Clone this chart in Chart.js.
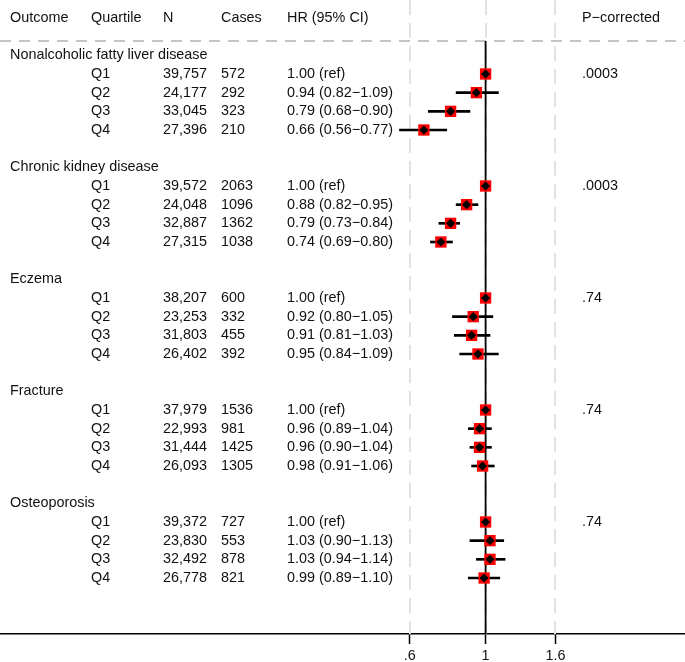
<!DOCTYPE html>
<html><head><meta charset="utf-8">
<script src="https://cdn.jsdelivr.net/npm/chart.js@4.4.1/dist/chart.umd.min.js"></script>
<style>html,body{margin:0;padding:0;background:#fff;}#wrap{width:685px;height:662px;position:relative;}</style>
</head><body><div id="wrap"><canvas id="c"></canvas></div>
<script>
// ---- data ----
const outcomes = ["Nonalcoholic fatty liver disease","Chronic kidney disease","Eczema","Fracture","Osteoporosis"];
const quartiles = ["Q1","Q2","Q3","Q4"];
const nValues = [
  ["39,757","24,177","33,045","27,396"],
  ["39,572","24,048","32,887","27,315"],
  ["38,207","23,253","31,803","26,402"],
  ["37,979","22,993","31,444","26,093"],
  ["39,372","23,830","32,492","26,778"]
];
const cases = [
  [572,292,323,210],
  [2063,1096,1362,1038],
  [600,332,455,392],
  [1536,981,1425,1305],
  [727,553,878,821]
];
const hr = [
  [1.00,0.94,0.79,0.66],
  [1.00,0.88,0.79,0.74],
  [1.00,0.92,0.91,0.95],
  [1.00,0.96,0.96,0.98],
  [1.00,1.03,1.03,0.99]
];
const ciLow = [
  [null,0.82,0.68,0.56],
  [null,0.82,0.73,0.69],
  [null,0.80,0.81,0.84],
  [null,0.89,0.90,0.91],
  [null,0.90,0.94,0.89]
];
const ciHigh = [
  [null,1.09,0.90,0.77],
  [null,0.95,0.84,0.80],
  [null,1.05,1.03,1.09],
  [null,1.04,1.04,1.06],
  [null,1.13,1.14,1.10]
];
const pCorrected = [".0003",".0003",".74",".74",".74"];
const tickValues = [0.6, 1, 1.6];
const tickLabels = [".6", "1", "1.6"];
const headers = ["Outcome","Quartile","N","Cases","HR (95% CI)","P\u2212corrected"];

// ---- layout (not data) ----
const FONT = '14.4px "Liberation Sans", Arial, sans-serif';
const colX = {outcome:10, quartile:91, n:163, cases:221, hr:287, p:582};
const headerRuleRow = 1.23;
const titleRow = g => 2 + 6*g;
const qRow = (g,q) => 3 + 6*g + q;

const barData = [], sqData = [];
outcomes.forEach((o,g)=>{
  quartiles.forEach((q,i)=>{
    sqData.push({x: hr[g][i], y: qRow(g,i)});
    if (ciLow[g][i] != null) barData.push({x:[ciLow[g][i], ciHigh[g][i]], y: qRow(g,i)});
  });
});

function fmt(v){ return v.toFixed(2); }

const forestPlugin = {
  id: 'forest',
  beforeDatasetsDraw(chart){
    const {ctx, chartArea} = chart;
    const xs = chart.scales.x, ys = chart.scales.y;
    ctx.save();
    ctx.strokeStyle = '#e2e2e2'; ctx.lineWidth = 2; ctx.setLineDash([15,8]);
    tickValues.forEach(v=>{
      const px = Math.round(xs.getPixelForValue(v));
      ctx.beginPath(); ctx.moveTo(px, chartArea.top); ctx.lineTo(px, chartArea.bottom); ctx.stroke();
    });
    const hy = ys.getPixelForValue(headerRuleRow);
    ctx.strokeStyle = '#c4c4c4'; ctx.lineWidth = 2; ctx.setLineDash([11,8]);
    ctx.beginPath(); ctx.moveTo(0, hy); ctx.lineTo(chart.width, hy); ctx.stroke();
    const x1 = xs.getPixelForValue(1);
    ctx.setLineDash([]); ctx.strokeStyle = '#000'; ctx.lineWidth = 1.8;
    ctx.beginPath(); ctx.moveTo(x1, hy); ctx.lineTo(x1, chartArea.bottom); ctx.stroke();
    ctx.restore();
  },
  afterDraw(chart){
    const {ctx} = chart;
    const ys = chart.scales.y;
    ctx.save();
    ctx.font = FONT; ctx.fillStyle = '#111'; ctx.textBaseline = 'middle'; ctx.textAlign = 'left';
    const hy = ys.getPixelForValue(0);
    const hx = [colX.outcome, colX.quartile, colX.n, colX.cases, colX.hr, colX.p];
    headers.forEach((h,i)=> ctx.fillText(h, hx[i], hy));
    outcomes.forEach((o,g)=>{
      ctx.fillText(o, colX.outcome, ys.getPixelForValue(titleRow(g)));
      quartiles.forEach((q,i)=>{
        const y = ys.getPixelForValue(qRow(g,i));
        ctx.fillText(q, colX.quartile, y);
        ctx.fillText(nValues[g][i], colX.n, y);
        ctx.fillText(String(cases[g][i]), colX.cases, y);
        const t = ciLow[g][i] == null ? fmt(hr[g][i]) + ' (ref)' :
          fmt(hr[g][i]) + ' (' + fmt(ciLow[g][i]) + '\u2212' + fmt(ciHigh[g][i]) + ')';
        ctx.fillText(t, colX.hr, y);
        if (i === 0) ctx.fillText(pCorrected[g], colX.p, y);
      });
    });
    ctx.restore();
  }
};

new Chart(document.getElementById('c'), {
  type: 'bar',
  data: {
    datasets: [
      {type:'scatter', order:0, data: sqData, pointStyle:'rectRot', pointRadius:4.6, backgroundColor:'#000', borderWidth:0, pointHoverRadius:4.6},
      {type:'scatter', order:1, data: sqData, pointStyle:'rect', pointRadius:8, backgroundColor:'#ff0000', borderWidth:0, pointHoverRadius:8},
      {type:'bar', order:2, indexAxis:'y', data: barData, backgroundColor:'#000', barThickness:2, borderWidth:0}
    ]
  },
  options: {
    responsive: true, maintainAspectRatio: false, animation: false,
    layout: {padding: 0, autoPadding: false},
    plugins: {legend:{display:false}, tooltip:{enabled:false}},
    scales: {
      x: {
        type:'logarithmic', min:0.038, max:3.83, offset:false, position:'bottom',
        afterBuildTicks: s => { s.ticks = tickValues.map(v=>({value:v})); },
        afterFit: s => { s.height = 28; },
        grid: {display:true, offset:false, drawOnChartArea:false, drawTicks:true, tickLength:10, tickColor:'#000', tickWidth:1.5},
        border: {display:true, color:'#000', width:1.6},
        ticks: {autoSkip:false, maxRotation:0, padding:3, color:'#111',
          font:{family:'"Liberation Sans", Arial, sans-serif', size:14.4},
          callback: (v) => tickLabels[tickValues.indexOf(v)] }
      },
      y: {type:'linear', display:false, reverse:true, min:-0.964, max:33, offset:false}
    }
  },
  plugins: [forestPlugin]
});
</script></body></html>
